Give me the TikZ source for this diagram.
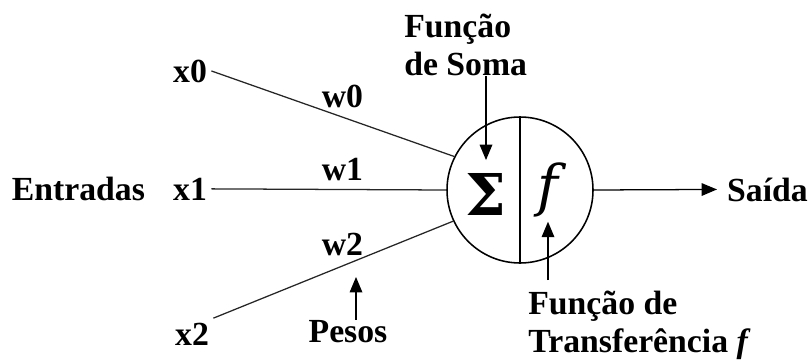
\documentclass[tikz,border=0pt]{standalone}
\usepackage{fontspec}
\setmainfont{Liberation Serif}
\newfontfamily\symfont{DejaVu Serif}
\usetikzlibrary{arrows.meta,positioning,calc}
\tikzset{
  lab/.style={font=\fontsize{24}{27}\selectfont\bfseries,inner sep=3pt},
  txt/.style={font=\fontsize{24}{27}\selectfont\bfseries,align=left,inner sep=0pt},
  big/.style={font=\symfont\fontsize{40}{44}\selectfont},
  wire/.style={line width=0.9pt,draw=black!85},
  arr/.style={-{Triangle[length=11pt,width=9pt]},line width=0.9pt,draw=black},
}
\begin{document}
\begin{tikzpicture}
  \useasboundingbox (0,0) rectangle (20.275,9);
  % entradas
  \node[lab,anchor=base] (ent) at (1.96,4.0) {Entradas};
  \node[lab,anchor=base] (x0) at (4.75,6.95) {x0};
  \node[lab,anchor=base] (x1) at (4.75,4.0) {x1};
  \node[lab,anchor=base] (x2) at (4.8,0.375) {x2};
  % neuronio
  \node[circle,draw,line width=1.1pt,minimum size=3.65cm,inner sep=0pt] (neuron) at (13.0,4.25) {};
  \draw[line width=1.1pt] (neuron.north) -- (neuron.south);
  \node[big,font=\symfont\fontsize{41}{44}\selectfont\bfseries,inner sep=9pt] (sig) at (12.15,4.15) {Σ};
  \node[big,inner sep=3pt] (fn) at (13.7,4.25) {\itshape f};
  % pesos
  \draw[wire] (x0.east) -- (neuron.153);
  \draw[wire] (x1.east) -- (neuron.west);
  \draw[wire] (x2.north east) -- (neuron.205);
  \node[lab,anchor=base] (w0) at (8.5625,6.325) {w0};
  \node[lab,anchor=base] (w1) at (8.5625,4.5) {w1};
  \node[lab,anchor=base] (w2) at (8.5625,2.625) {w2};
  \node[lab,anchor=base,inner sep=0pt] (pesos) at (8.7,0.45) {Pesos};
  \coordinate (ptip) at (8.9,2.075);
  \draw[arr] (pesos.north -| ptip) -- (ptip);
  % funcoes
  \node[txt,anchor=north west] (soma) at (10.1,8.65) {Função\\de Soma};
  \draw[arr] (soma.south -| sig.north) -- (sig.north);
  \node[txt,anchor=north west,outer ysep=8pt] (transf) at (13.2,2.0) {Função de\\Transferência {\itshape f}};
  \draw[arr] (transf.north -| fn.south) -- (fn.south);
  % saida
  \node[lab,anchor=base west,inner xsep=7pt] (saida) at (17.925,3.975) {Saída};
  \draw[arr] (neuron.east) -- (saida.west);
\end{tikzpicture}
\end{document}
